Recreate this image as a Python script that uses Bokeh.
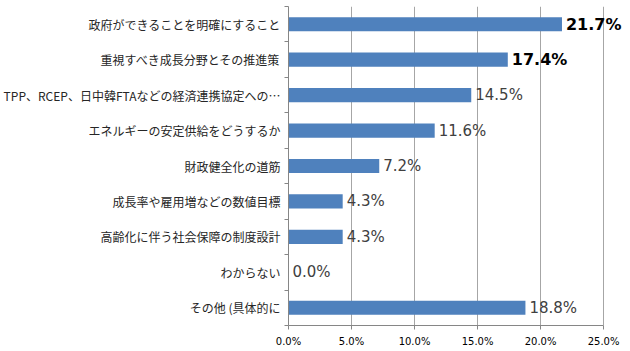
from bokeh.plotting import figure
from bokeh.models import ColumnDataSource, FixedTicker, NumeralTickFormatter, Range1d, LabelSet
from bokeh.core.properties import value
from bokeh.embed import file_html
from bokeh.resources import INLINE

categories = [
    "政府ができることを明確にすること",
    "重視すべき成長分野とその推進策",
    "TPP、RCEP、日中韓FTAなどの経済連携協定への…",
    "エネルギーの安定供給をどうするか",
    "財政健全化の道筋",
    "成長率や雇用増などの数値目標",
    "高齢化に伴う社会保障の制度設計",
    "わからない",
    "その他 (具体的に",
]
values = [0.217, 0.174, 0.145, 0.116, 0.072, 0.043, 0.043, 0.0, 0.188]
bold_flags = [True, True, False, False, False, False, False, False, False]
x_ticks = [0, 0.05, 0.10, 0.15, 0.20, 0.25]

n = len(categories)
ypos = [n - 0.5 - i for i in range(n)]
labels = [f"{v*100:.1f}%" for v in values]

x_max = 0.25
x_end = x_max * (628 - 287) / (603 - 287)

p = figure(width=630, height=351, output_backend="svg", toolbar_location=None,
           x_range=Range1d(0, x_end), y_range=Range1d(0, n),
           min_border_left=286, min_border_right=2, min_border_top=6, min_border_bottom=26)
p.outline_line_color = None
p.background_fill_color = "white"

src = ColumnDataSource(dict(y=ypos, v=values))
p.hbar(y="y", right="v", left=0, height=0.4, source=src, fill_color="#4F81BD", line_color=None)

for b in (True, False):
    idx = [i for i in range(n) if bold_flags[i] == b]
    s = ColumnDataSource(dict(y=[ypos[i] for i in idx], v=[values[i] for i in idx],
                              lab=[labels[i] for i in idx]))
    ls = LabelSet(x="v", y="y", text="lab", source=s, x_offset=4, text_baseline="middle",
                  text_font=value("DejaVu Sans"), text_font_style="bold" if b else "normal",
                  text_font_size="16px" if b else "15px",
                  text_color="#000000" if b else "#404040")
    p.add_layout(ls)

p.xaxis.ticker = FixedTicker(ticks=x_ticks)
p.xaxis.bounds = (0, x_max)
p.xaxis.formatter = NumeralTickFormatter(format="0.0%")
p.xaxis.major_label_text_font = "DejaVu Sans"
p.xaxis.major_label_text_font_size = "10px"
p.xaxis.major_label_text_color = "#000000"
p.xaxis.axis_line_color = "#868686"
p.xaxis.major_tick_line_color = "#868686"
p.xaxis.major_tick_out = 4
p.xaxis.major_tick_in = 0
p.xaxis.minor_tick_line_color = None
p.xaxis.major_label_standoff = 6

p.yaxis.ticker = FixedTicker(ticks=ypos, minor_ticks=list(range(n + 1)))
p.yaxis.major_label_overrides = {y: c for y, c in zip(ypos, categories)}
p.yaxis.major_label_text_font = "Noto Sans CJK JP"
p.yaxis.major_label_text_font_size = "12px"
p.yaxis.major_label_text_color = "#262626"
p.yaxis.axis_line_color = "#868686"
p.yaxis.major_tick_line_color = None
p.yaxis.minor_tick_line_color = "#868686"
p.yaxis.minor_tick_out = 4
p.yaxis.minor_tick_in = 0
p.yaxis.major_label_standoff = 2

p.xgrid.ticker = FixedTicker(ticks=x_ticks)
p.xgrid.grid_line_color = "#A6A6A6"
p.ygrid.grid_line_color = None

open("out.html", "w").write(file_html(p, INLINE))
